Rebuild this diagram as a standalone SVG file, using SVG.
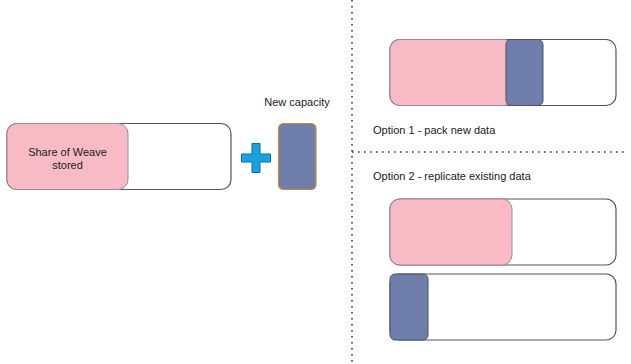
<svg xmlns="http://www.w3.org/2000/svg" width="631" height="364" viewBox="0 0 631 364">
<style>
.bar{fill:#ffffff;stroke:#555555;stroke-width:1.2}
.pink{fill:#f8bac4;stroke:#9a8aa0;stroke-width:1}
.blue{fill:#6f7eab;stroke:#4a5070;stroke-width:1}
.lbl{font-family:"Liberation Sans",Arial,sans-serif;font-size:11px;fill:#1a1a1a}
.dot{stroke:#333333;stroke-width:1.6;stroke-dasharray:1.6 4.4;fill:none}
</style>
<rect width="631" height="364" fill="#ffffff"/>
<g id="connectors">
<line class="dot" x1="352" y1="0" x2="352" y2="364"/>
<line class="dot" x1="352" y1="152" x2="628" y2="152"/>
</g>
<g id="weave-share">
<rect class="bar" x="7" y="123.5" width="224" height="66" rx="10"/>
<rect class="pink" x="7" y="123.5" width="121" height="66" rx="10"/>
<text class="lbl" x="67.5" y="156" text-anchor="middle">Share of Weave</text>
<text class="lbl" x="67.5" y="169" text-anchor="middle">stored</text>
</g>
<g id="plus">
<path d="M252 143.5h8v10.5h10.5v8h-10.5v10.5h-8v-10.5h-10.5v-8h10.5z" fill="#1ba1e2" stroke="#006eaf" stroke-width="1"/>
</g>
<g id="new-capacity">
<text class="lbl" x="297" y="106" text-anchor="middle">New capacity</text>
<rect x="278.5" y="123.5" width="37.5" height="66" rx="5" fill="#6f7eab" stroke="#c68a2e" stroke-width="1.2"/>
</g>
<g id="option1">
<rect class="bar" x="390" y="39.5" width="226" height="66" rx="10"/>
<rect class="pink" x="390" y="39.5" width="124" height="66" rx="10"/>
<rect class="blue" x="506" y="39.5" width="37" height="66" rx="5"/>
<text class="lbl" x="373" y="134">Option 1 - pack new data</text>
</g>
<g id="option2">
<text class="lbl" x="373" y="180">Option 2 - replicate existing data</text>
<rect class="bar" x="390" y="199" width="226" height="66" rx="10"/>
<rect class="pink" x="390" y="199" width="122" height="66" rx="10"/>
<rect class="bar" x="390" y="274" width="226" height="66" rx="10"/>
<rect class="blue" x="390" y="274" width="38" height="66" rx="5"/>
</g>
</svg>
